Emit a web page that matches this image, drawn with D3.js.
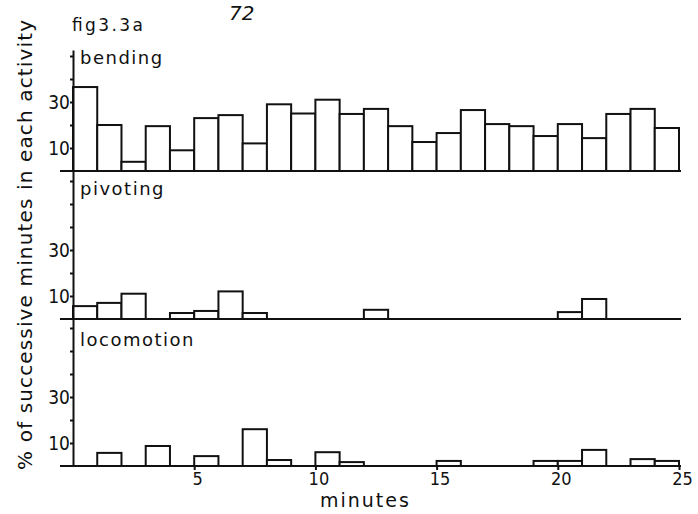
<!DOCTYPE html>
<html>
<head>
<meta charset="utf-8">
<script src="https://cdn.jsdelivr.net/npm/d3@7"></script>
<style>
  body { margin: 0; background: #fff; }
  svg text { fill: #111; font-family: "DejaVu Sans", sans-serif; }
  .num { font-family: "DejaVu Sans Condensed", "DejaVu Sans", sans-serif; }
</style>
</head>
<body>
<svg id="chart" width="698" height="514"></svg>
<script>
// minute bins (1..25) and % of successive minutes in each activity
const minutes = [1, 2, 3, 4, 5, 6, 7, 8, 9, 10, 11, 12, 13, 14, 15, 16, 17, 18, 19, 20, 21, 22, 23, 24, 25];
const bending = [36.5, 20, 4, 19.5, 9, 23, 24.3, 12, 29, 25, 31, 24.8, 27, 19.5, 12.6, 16.5, 26.5, 20.4, 19.5, 15.2, 20.4, 14.3, 24.8, 27, 18.7];
const pivoting = [5.6, 7, 11, 0, 2.6, 3.5, 12, 2.6, 0, 0, 0, 0, 4, 0, 0, 0, 0, 0, 0, 0, 3, 8.7, 0, 0, 0];
const locomotion = [0, 5.7, 0, 8.7, 0, 4.3, 0, 16, 2.6, 0, 6, 1.7, 0, 0, 0, 2.2, 0, 0, 0, 2.2, 2.2, 7, 0, 3, 2.2];
const activityNames = ['bending', 'pivoting', 'locomotion'];
const xTicks = [5, 10, 15, 20, 25];
const yTickLabels = [10, 30];

const svg = d3.select('#chart');
svg.append('rect').attr('width', 698).attr('height', 514).attr('fill', '#fff');

const x = d3.scaleLinear().domain([0, 25]).range([73, 679]);
const pxPerUnit = 2.3;

// panel layout: baseline and top of each strip
const panels = [
    { name: activityNames[0], values: bending, base: 171, top: 50, labelY: 64 },
    { name: activityNames[1], values: pivoting, base: 319, top: 171, labelY: 195 },
    { name: activityNames[2], values: locomotion, base: 466, top: 319, labelY: 346 }
];

panels.forEach((p, pi) => {
    const y = d3.scaleLinear()
        .domain([0, (p.base - p.top) / pxPerUnit])
        .range([p.base, p.top]);
    const g = svg.append('g');

    // bars
    g.append('g')
        .selectAll('rect')
        .data(p.values.map((v, i) => ({ m: minutes[i], v })).filter(d => d.v > 0))
        .join('rect')
        .attr('x', d => x(d.m - 1))
        .attr('width', d => x(d.m) - x(d.m - 1))
        .attr('y', d => y(d.v))
        .attr('height', d => p.base - y(d.v))
        .attr('fill', '#fff')
        .attr('stroke', '#111')
        .attr('stroke-width', 2);

    // baseline
    g.append('line')
        .attr('x1', 60).attr('x2', x(25) + 2)
        .attr('y1', p.base).attr('y2', p.base)
        .attr('stroke', '#111').attr('stroke-width', 2);

    // y axis
    const ticks = d3.range(10, y.domain()[1], 10);
    const yAxis = g.append('g')
        .attr('transform', `translate(${x(0)},0)`)
        .call(d3.axisLeft(y)
            .tickValues(ticks)
            .tickSize(3)
            .tickSizeOuter(0)
            .tickPadding(0)
            .tickFormat(d => yTickLabels.includes(d) ? d : ''));
    yAxis.select('.domain').attr('stroke', '#111').attr('stroke-width', 2);
    yAxis.selectAll('.tick line').attr('stroke', '#111').attr('stroke-width', 2);
    yAxis.selectAll('.tick text')
        .attr('class', 'num')
        .attr('font-size', 19)
        .attr('fill', '#111');

    // activity label
    g.append('text')
        .attr('x', 80)
        .attr('y', p.labelY)
        .attr('font-size', 18)
        .attr('letter-spacing', 1.5)
        .text(p.name);

    // x axis below the last panel
    if (pi === panels.length - 1) {
        const xAxis = g.append('g')
            .attr('transform', `translate(0,${p.base})`)
            .call(d3.axisBottom(x).tickValues(xTicks).tickSize(4).tickSizeOuter(0));
        xAxis.select('.domain').remove();
        xAxis.selectAll('.tick line').attr('stroke', '#111').attr('stroke-width', 2);
        xAxis.selectAll('.tick text')
            .attr('class', 'num')
            .attr('font-size', 18)
            .attr('fill', '#111')
            .attr('y', 6)
            .attr('dx', 3);
    }
});

// titles
svg.append('text')
    .attr('x', 72).attr('y', 31)
    .attr('font-size', 17)
    .attr('textLength', 71)
    .text('fig3.3a');

svg.append('text')
    .attr('x', 229).attr('y', 20)
    .attr('font-size', 20)
    .attr('font-style', 'italic')
    .text('72');

svg.append('text')
    .attr('x', 320).attr('y', 507)
    .attr('font-size', 19)
    .attr('letter-spacing', 2)
    .text('minutes');

svg.append('text')
    .attr('transform', 'translate(32,245) rotate(-90)')
    .attr('text-anchor', 'middle')
    .attr('font-size', 20)
    .attr('textLength', 450)
    .text('% of successive minutes in each activity');
</script>
</body>
</html>
